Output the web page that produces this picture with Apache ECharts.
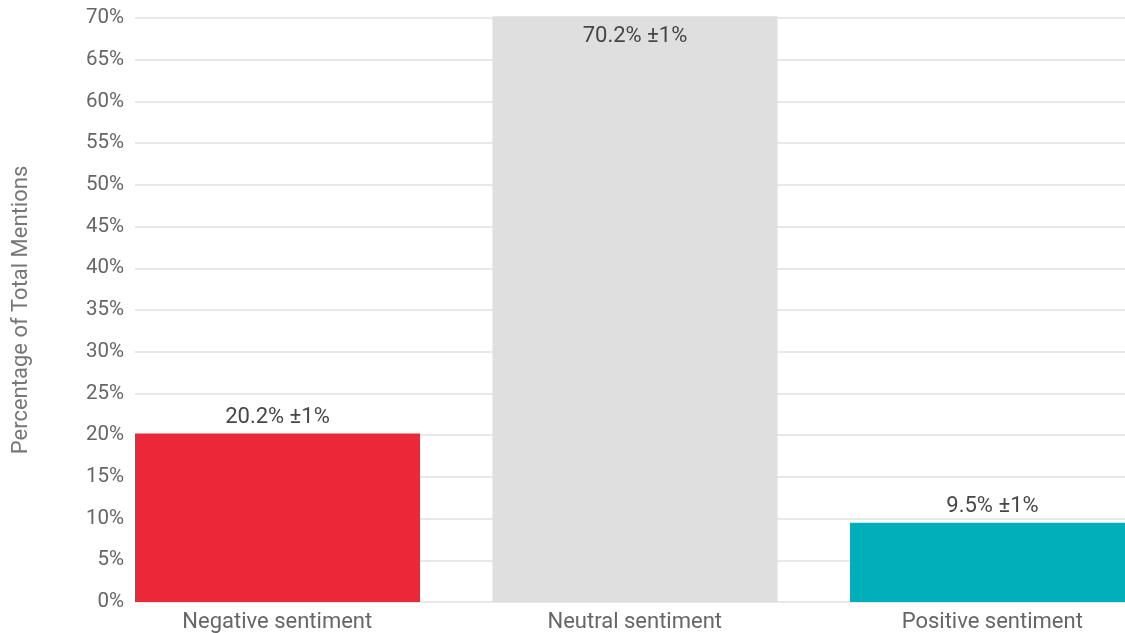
<!DOCTYPE html>
<html>
<head>
<meta charset="utf-8">
<script src="https://cdn.jsdelivr.net/npm/echarts@6/dist/echarts.min.js"></script>
<style>
html,body{margin:0;padding:0;background:#fff;}
#c{width:1125px;height:633px;}
</style>
</head>
<body>
<div id="c"></div>
<script>
const categories = ['Negative sentiment', 'Neutral sentiment', 'Positive sentiment'];
const values = [20.2, 70.2, 9.5];
const margins = ['±1%', '±1%', '±1%'];
const colors = ['#EC2737', '#DFDFDF', '#00AFB9'];
const yTicks = [0, 5, 10, 15, 20, 25, 30, 35, 40, 45, 50, 55, 60, 65, 70];

const FONT = 'Roboto';
const chart = echarts.init(document.getElementById('c'), null, {renderer: 'canvas'});

const barData = values.map((v, i) => ({
  value: v,
  itemStyle: {color: colors[i]},
  label: {position: i === 1 ? 'insideTop' : 'top', distance: i === 1 ? 9 : 5}
}));

chart.setOption({
  animation: false,
  backgroundColor: '#fff',
  grid: {left: 135, width: 1072.5, top: 18, bottom: 31, containLabel: false, outerBoundsMode: 'none'},
  xAxis: {
    type: 'category',
    data: categories,
    axisLine: {show: false},
    axisTick: {show: false},
    axisLabel: {
      color: '#666', fontFamily: FONT, fontSize: 22, margin: 9,
      padding: [0, 73, 0, 0]
    }
  },
  yAxis: {
    type: 'value',
    min: 0, max: 70, interval: 5,
    name: 'Percentage of Total Mentions',
    nameLocation: 'middle',
    nameGap: 103,
    nameTextStyle: {color: '#777', fontFamily: FONT, fontSize: 22},
    axisLine: {show: false},
    axisTick: {show: false},
    axisLabel: {
      color: '#666', fontFamily: FONT, fontSize: 20.5, margin: 11,
      formatter: v => yTicks.includes(v) ? v + '%' : ''
    },
    splitLine: {lineStyle: {color: '#e0e0e0', width: 1.5}}
  },
  series: [
    {
      type: 'bar',
      data: barData,
      barWidth: 285,
      barGap: 0,
      clip: false,
      label: {
        show: true,
        color: '#474747',
        fontFamily: FONT,
        fontSize: 22,
        formatter: p => values[p.dataIndex] + '% ' + margins[p.dataIndex]
      }
    },
    {
      type: 'bar',
      data: values.map(() => 0),
      barWidth: 72.5,
      silent: true,
      itemStyle: {color: 'rgba(0,0,0,0)'},
      label: {show: false}
    }
  ]
});
</script>
</body>
</html>
